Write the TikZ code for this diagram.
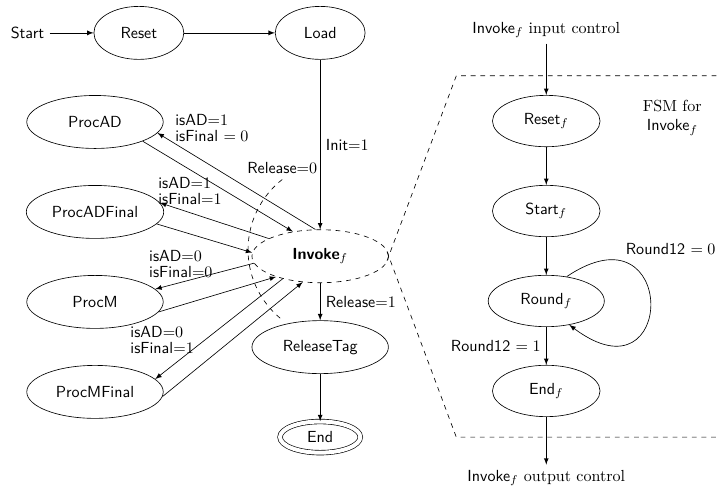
\documentclass[tikz,border=0pt]{standalone}
\usepackage{amsmath}
\usepackage{amssymb}
\usepackage{tikz}
\usetikzlibrary{shapes.geometric}

\tikzset{
  state/.style={ellipse, draw, font=\sffamily, minimum width=56pt, minimum height=33pt},
  wide/.style={minimum width=85pt},
  fstate/.style={state, inner xsep=9.5pt, minimum width=67pt, minimum height=32pt},
  lbl/.style={font=\sffamily},
}

\begin{document}
\begin{tikzpicture}[>=latex]
  \useasboundingbox (0,0) rectangle (15.72,10.84);
  % top level FSM
  \node[lbl] (start) at (0.60,10.12) {Start};
  \node[state] (reset) at (3.04,10.12) {Reset};
  \node[state] (load) at (7.01,10.12) {Load};
  \node[state, wide, dashed] (invoke) at (7.01,5.23) {{\bfseries Invoke}$_f$};
  \node[state, wide] (procad) at (2.08,8.17) {ProcAD};
  \node[state, wide] (procadfinal) at (2.08,6.20) {ProcADFinal};
  \node[state, wide] (procm) at (2.08,4.23) {ProcM};
  \node[state, wide] (procmfinal) at (2.08,2.26) {ProcMFinal};
  \node[state, wide] (releasetag) at (7.01,3.24) {ReleaseTag};
  \node[state, double, double distance=2.5pt, minimum width=50pt, minimum height=15pt] (end) at (7.01,1.27) {End};
  \draw[->] (start) -- (reset);
  \draw[->] (reset) -- (load);
  \draw[->] (load) -- node[lbl, midway, right] {Init${=}1$} (invoke);
  \draw[->] (invoke) -- node[lbl, midway, right] {Release${=}1$} (releasetag);
  \draw[->] (releasetag) -- (end);
  % to and from the processing states
  \draw[->] (invoke.100) -- (procad.-10);
  \draw[->] (procad.-22) -- (invoke.138);
  \draw[->] (invoke.161) -- (procadfinal.8);
  \draw[->] (procadfinal.-11) -- (invoke.177);
  \draw[->] (invoke.186) -- (procm.12);
  \draw[->] (procm.-9) -- (invoke.205);
  \draw[->] (invoke.211) -- (procmfinal.12);
  \draw[->] (procmfinal.-4) -- (invoke.236);
  \node[lbl] (cad) at (4.64,8.04) {\shortstack[l]{isAD${=}1$\\isFinal $= 0$}};
  \node[lbl] (cadfinal) at (4.16,6.66) {\shortstack[l]{isAD${=}1$\\isFinal${=}1$}};
  \node[lbl] (cm) at (3.96,5.06) {\shortstack[l]{isAD${=}0$\\isFinal${=}0$}};
  \node[lbl] (cmfinal) at (3.55,3.39) {\shortstack[l]{isAD${=}0$\\isFinal${=}1$}};
  \draw[dashed] (6.18,6.91) node[lbl, above] (rel) {Release${=}0$} arc[start angle=128, end angle=232, radius=1.95];
  % FSM inside Invoke_f
  \node (in) at (11.96,10.18) {\textsf{Invoke}$_f$ input control};
  \node[fstate] (resetf) at (11.96,8.19) {Reset$_f$};
  \node[fstate] (startf) at (11.96,6.22) {Start$_f$};
  \node[fstate] (roundf) at (11.96,4.25) {Round$_f$};
  \node[fstate] (endf) at (11.96,2.28) {End$_f$};
  \node (out) at (11.96,0.37) {\textsf{Invoke}$_f$ output control};
  \node[align=center] (fsm) at (14.72,8.26) {FSM for\\\textsf{Invoke}$_f$};
  \draw[->] (in) -- (resetf);
  \draw[->] (resetf) -- (startf);
  \draw[->] (startf) -- (roundf);
  \draw[->] (roundf) -- node[lbl, midway, left] {Round12 $= 1$} (endf);
  \draw[->] (roundf.50) to[out=34, in=-37, out distance=2.95cm, in distance=2.95cm]
    node[lbl, pos=0.2, above right] {Round12 $= 0$} (roundf.-46);
  \draw[->] (endf) -- (out);
  % zoom box
  \coordinate (tl) at (9.99,9.18);
  \coordinate (tr) at (15.72,9.18);
  \coordinate (bl) at (9.99,1.27);
  \coordinate (br) at (15.72,1.27);
  \draw[dashed, shorten <=-3pt] (invoke.east) -- (tl) -- (tr);
  \draw[dashed, shorten <=-3pt] (invoke.east) -- (bl) -- (br);
\end{tikzpicture}
\end{document}
